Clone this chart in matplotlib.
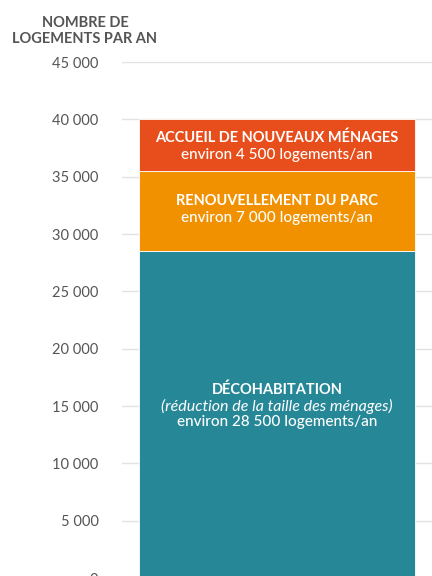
import matplotlib
matplotlib.use("Agg")
import matplotlib.pyplot as plt

plt.rcParams['font.family'] = ['Lato', 'DejaVu Sans']

categories = ["DÉCOHABITATION", "RENOUVELLEMENT DU PARC", "ACCUEIL DE NOUVEAUX MÉNAGES"]
subtitles = ["(réduction de la taille des ménages)", None, None]
values = [28500, 7000, 4500]
value_labels = ["environ 28 500 logements/an", "environ 7 000 logements/an", "environ 4 500 logements/an"]
colors = ["#268797", "#f29100", "#e84e1b"]
yticks = [0, 5000, 10000, 15000, 20000, 25000, 30000, 35000, 40000, 45000]
ytick_labels = ["0", "5 000", "10 000", "15 000", "20 000", "25 000", "30 000", "35 000", "40 000", "45 000"]
axis_title = "NOMBRE DE\nLOGEMENTS PAR AN"

fig = plt.figure(figsize=(4.32, 5.76), dpi=100)
ax = fig.add_axes([122/432, (576-578)/576, 310/432, (578-62)/576])
ax.set_xlim(0, 1)
ax.set_ylim(0, 45000)

bottom = 0
for cat, sub, v, vl, c in zip(categories, subtitles, values, value_labels, colors):
    ax.bar(0.5, v, width=0.89, bottom=bottom, color=c, edgecolor='white', linewidth=0.6, zorder=2)
    bottom += v

# labels
b0 = 0
for i, (cat, sub, v, vl) in enumerate(zip(categories, subtitles, values, value_labels)):
    if sub:
        yc = 15000
        ax.text(0.5, yc + 1450, cat, ha='center', va='center', color='white', fontsize=10.5, fontweight='bold', zorder=3)
        ax.text(0.5, yc, sub, ha='center', va='center', color='white', fontsize=11.5, style='italic', zorder=3)
        ax.text(0.5, yc - 1400, vl, ha='center', va='center', color='white', fontsize=11, fontweight='medium', zorder=3)
    else:
        yc = b0 + v / 2
        off = 250 if i == 1 else 0
        ax.text(0.5, yc + 650 + off, cat, ha='center', va='center', color='white', fontsize=10.5, fontweight='bold', zorder=3)
        ax.text(0.5, yc - 850 + off, vl, ha='center', va='center', color='white', fontsize=11, fontweight='medium', zorder=3)
    b0 += v

ax.set_yticks(yticks)
ax.set_yticklabels(ytick_labels)
ax.set_xticks([])
ax.tick_params(axis='y', length=0, pad=17, labelsize=10.5, labelcolor='#555555')
for s in ax.spines.values():
    s.set_visible(False)
ax.yaxis.grid(True, color='#e3e3e3', linewidth=1, zorder=0)
ax.set_axisbelow(True)

fig.text(85/432, 1 - 31/576, axis_title, ha='center', va='center', fontsize=10.5,
         fontweight='bold', color='#555555', linespacing=1.1)

fig.savefig("out.png", dpi=100)
